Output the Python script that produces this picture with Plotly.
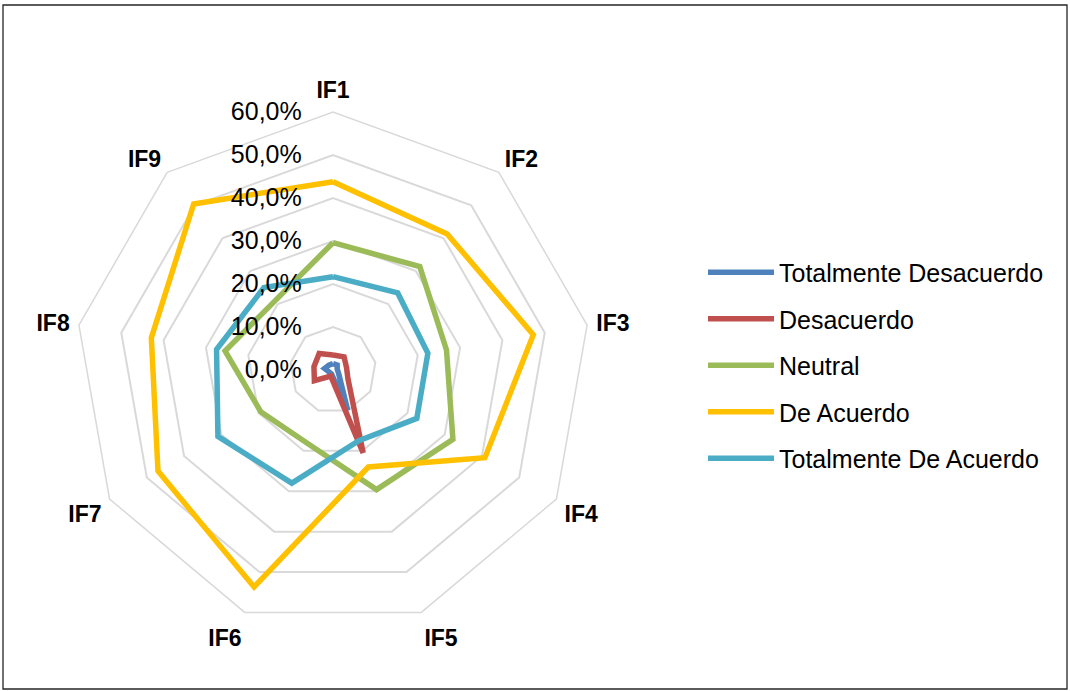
import plotly.graph_objects as go

categories = ["IF1", "IF2", "IF3", "IF4", "IF5", "IF6", "IF7", "IF8", "IF9"]
totalmente_desacuerdo = [1.5, 1.5, 1.0, 1.5, 10.0, 1.0, 1.0, 2.0, 1.5]
desacuerdo = [3.5, 4.0, 3.2, 4.0, 20.5, 1.5, 5.0, 4.5, 5.0]
neutral = [29.6, 31.4, 26.8, 32.2, 29.6, 18.0, 19.4, 25.5, 21.0]
de_acuerdo = [43.8, 41.3, 47.3, 40.8, 24.0, 53.7, 47.0, 42.9, 50.4]
totalmente_de_acuerdo = [21.7, 23.4, 22.4, 22.5, 17.5, 28.0, 30.9, 27.5, 25.0]
radial_ticks = [0, 0.1, 0.2, 0.3, 0.4, 0.5, 0.6]

series = [
    ("Totalmente Desacuerdo", totalmente_desacuerdo, "#4F81BD"),
    ("Desacuerdo", desacuerdo, "#C0504D"),
    ("Neutral", neutral, "#9BBB59"),
    ("De Acuerdo", de_acuerdo, "#FFC000"),
    ("Totalmente De Acuerdo", totalmente_de_acuerdo, "#4BACC6"),
]

FONT = "Arial, Liberation Sans, sans-serif"
W, H = 1070, 691
cx, cy, R = 333, 370, 258

fig = go.Figure()
for i, (name, vals, color) in enumerate(series):
    r = [v / 100 for v in vals]
    fig.add_trace(go.Scatterpolar(
        r=r + [r[0]], theta=categories + [categories[0]],
        mode="lines", name=name, legendgroup=f"g{i}",
        line=dict(color=color, width=5.5),
    ))

fig.update_layout(
    width=W, height=H,
    margin=dict(l=0, r=0, t=0, b=0),
    paper_bgcolor="white",
    separators=", ",
    font=dict(family=FONT, color="black"),
    polar=dict(
        domain=dict(x=[(cx - R) / W, (cx + R) / W],
                    y=[(H - cy - R) / H, (H - cy + R) / H]),
        bgcolor="white",
        gridshape="linear",
        angularaxis=dict(
            direction="clockwise", rotation=90,
            showgrid=False, showline=True, linecolor="#D9D9D9", linewidth=1.5,
            ticks="outside", ticklen=4, tickcolor="rgba(0,0,0,0)",
            tickfont=dict(size=23, family=FONT, color="black", weight="bold"),
        ),
        radialaxis=dict(
            range=[0, 0.6], tickvals=radial_ticks, tickformat=".1%",
            angle=90, tickangle=90, side="counterclockwise",
            showline=False, gridcolor="#D9D9D9", gridwidth=1.5,
            ticks="outside", ticklen=22, tickcolor="rgba(0,0,0,0)",
            tickfont=dict(size=25, family=FONT, color="black"),
        ),
    ),
    legend=dict(
        x=703 / W, y=1 - 365.5 / H, xanchor="left", yanchor="middle",
        font=dict(size=25, family=FONT, color="black"),
        tracegroupgap=11, itemwidth=66,
    ),
    shapes=[dict(type="rect", xref="paper", yref="paper",
                 x0=3 / W, x1=1067 / W, y0=1 - 689 / H, y1=1 - 5 / H,
                 line=dict(color="#262626", width=1.3), fillcolor="rgba(0,0,0,0)")],
)

fig.write_html("out.html", config={"displayModeBar": False},
               post_script="document.body.style.margin='0';document.body.style.overflow='hidden';")
